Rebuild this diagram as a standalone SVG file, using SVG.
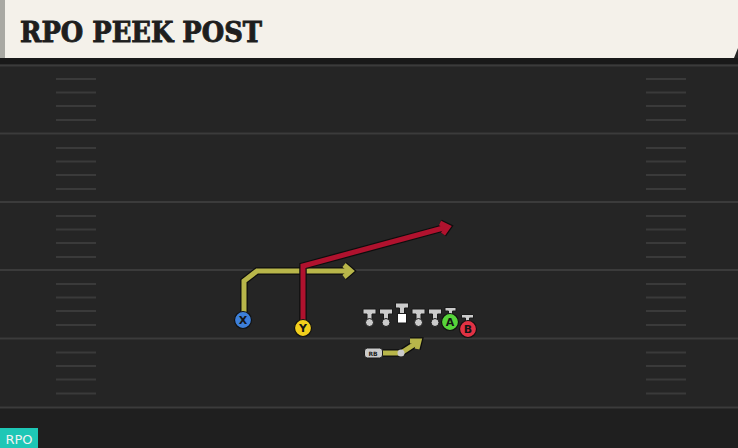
<svg xmlns="http://www.w3.org/2000/svg" width="738" height="448" viewBox="0 0 738 448">
<style>
.yl{stroke:#3b3b3b;stroke-width:2}
.hm{stroke:#3a3a3a;stroke-width:2}
.rt{fill:none;stroke-width:5;stroke-linejoin:miter;stroke-linecap:butt}
.ol{fill:none;stroke:#0e0e0e;stroke-width:7.5;stroke-linejoin:miter}
.pl{fill:#cbcbcb;stroke:#1a1a1a;stroke-width:1}
.lt{font-family:"DejaVu Sans",sans-serif;font-weight:bold;font-size:11px;fill:#151515;text-anchor:middle}
</style>
<defs>
<g id="hashes">
<line class="hm" x1="56" x2="96" y1="0" y2="0"/>
<line class="hm" x1="56" x2="96" y1="13.5" y2="13.5"/>
<line class="hm" x1="56" x2="96" y1="27" y2="27"/>
<line class="hm" x1="56" x2="96" y1="41" y2="41"/>
<line class="hm" x1="646" x2="686" y1="0" y2="0"/>
<line class="hm" x1="646" x2="686" y1="13.5" y2="13.5"/>
<line class="hm" x1="646" x2="686" y1="27" y2="27"/>
<line class="hm" x1="646" x2="686" y1="41" y2="41"/>
</g>
<g id="lineman">
<path class="pl" d="M-6.5 0 H6.5 V5 H2.5 V11 H-2.5 V5 H-6.5 Z"/>
<circle class="pl" cx="0" cy="13.5" r="4"/>
</g>
</defs>
<rect x="0" y="0" width="738" height="448" fill="#252525"/>
<rect x="0" y="407" width="738" height="41" fill="#1f1f1f"/>
<g id="field">
<line class="yl" x1="0" x2="738" y1="65.5" y2="65.5"/>
<line class="yl" x1="0" x2="738" y1="133.5" y2="133.5"/>
<line class="yl" x1="0" x2="738" y1="202" y2="202"/>
<line class="yl" x1="0" x2="738" y1="270" y2="270"/>
<line class="yl" x1="0" x2="738" y1="338.5" y2="338.5"/>
<line class="yl" x1="0" x2="738" y1="407.5" y2="407.5"/>
<use href="#hashes" y="79"/>
<use href="#hashes" y="148"/>
<use href="#hashes" y="216"/>
<use href="#hashes" y="284"/>
<use href="#hashes" y="352.5"/>
</g>
<g id="header">
<rect x="0" y="58" width="738" height="6" fill="#191919"/>
<path d="M0 0 H738 V48 L734 58 H0 Z" fill="#f4f1ea"/>
<rect x="0" y="0" width="5" height="58" fill="#a9a9a3"/>
<text x="20" y="42" font-family="'DejaVu Serif',serif" font-weight="bold" font-size="27" fill="#1e1e1e" stroke="#1e1e1e" stroke-width="0.9" textLength="242" lengthAdjust="spacingAndGlyphs">RPO PEEK POST</text>
</g>
<g id="connectors">
<polyline class="ol" points="244,312 244,281 257,271 349,271"/>
<polyline class="ol" points="344,265 351,271 344,277"/>
<polyline class="rt" stroke="#b8b64a" points="244,312 244,281 257,271 349,271"/>
<polyline class="rt" stroke="#b8b64a" points="344,265 351,271 344,277"/>
<polyline class="ol" points="303,320 303,266 447,227"/>
<polyline class="ol" points="440,223 448,227 443,234"/>
<polyline class="rt" stroke="#b0122e" points="303,320 303,266 447,227"/>
<polyline class="rt" stroke="#b0122e" points="440,223 448,227 443,234"/>
<polyline class="ol" points="382,353 401,353 418,342"/>
<polyline class="ol" points="410,341 419,341 417,349"/>
<polyline class="rt" stroke="#b8b64a" points="382,353 401,353 418,342"/>
<polyline class="rt" stroke="#b8b64a" points="410,341 419,341 417,349"/>
<circle cx="401" cy="353" r="3.5" fill="#cbcbcb"/>
</g>
<g id="line">
<use href="#lineman" x="369.5" y="309"/>
<use href="#lineman" x="386" y="309"/>
<g transform="translate(402,303)">
<path class="pl" d="M-6.5 0 H6.5 V5 H2.5 V11 H-2.5 V5 H-6.5 Z"/>
<rect x="-4.5" y="10.5" width="9" height="9.5" fill="#ffffff" stroke="#1a1a1a" stroke-width="1"/>
</g>
<use href="#lineman" x="418.5" y="309"/>
<use href="#lineman" x="435" y="309"/>
</g>
<g id="X">
<circle cx="243" cy="320" r="8.5" fill="#3d7fd9" stroke="#111" stroke-width="1.2"/>
<text class="lt" x="243" y="324">X</text>
</g>
<g id="Y">
<circle cx="303" cy="328" r="8.5" fill="#f2cf1c" stroke="#111" stroke-width="1.2"/>
<text class="lt" x="303" y="332">Y</text>
</g>
<g id="A">
<path class="pl" d="M445 307.5 H456 V311 H452.5 V315 H448.5 V311 H445 Z"/>
<circle cx="450" cy="322" r="8.5" fill="#57d43a" stroke="#111" stroke-width="1.2"/>
<text class="lt" x="450" y="326">A</text>
</g>
<g id="B">
<path class="pl" d="M461.5 314.5 H473.5 V318 H469.5 V322 H465.5 V318 H461.5 Z"/>
<circle cx="468" cy="329" r="8.5" fill="#e23244" stroke="#111" stroke-width="1.2"/>
<text class="lt" x="468" y="333">B</text>
</g>
<g id="RB">
<rect x="364.5" y="348" width="18" height="10" rx="3" fill="#cbcbcb" stroke="#1a1a1a" stroke-width="1"/>
<text x="373" y="356" font-family="'DejaVu Sans',sans-serif" font-size="6" font-weight="bold" fill="#222" text-anchor="middle">RB</text>
</g>
<g id="tag">
<rect x="0" y="428" width="38" height="20" fill="#1ec7b6"/>
<text x="19" y="444" font-family="'DejaVu Sans',sans-serif" font-size="13" fill="#f2f2f2" text-anchor="middle">RPO</text>
</g>
</svg>
